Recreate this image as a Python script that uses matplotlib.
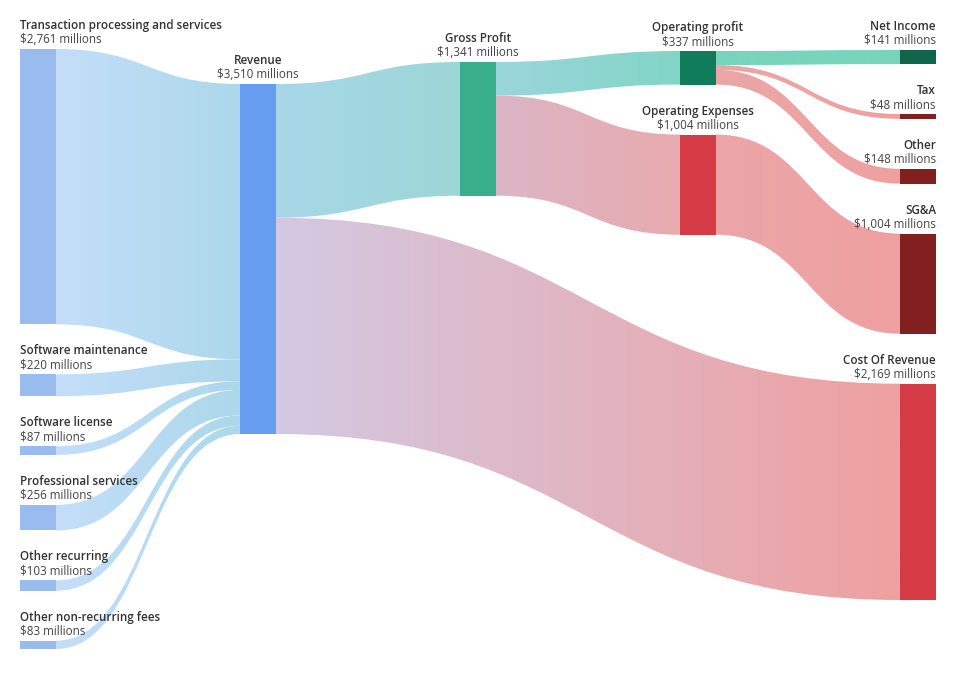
import numpy as np
import matplotlib.pyplot as plt
from matplotlib.path import Path
from matplotlib.patches import PathPatch, Rectangle
from matplotlib.colors import to_rgba

# nodes, grouped by column (top to bottom)
col0 = ["Transaction processing and services", "Software maintenance", "Software license",
        "Professional services", "Other recurring", "Other non-recurring fees"]
col1 = ["Revenue"]
col2 = ["Gross Profit"]
col3 = ["Operating profit", "Operating Expenses"]
col4 = ["Net Income", "Tax", "Other", "SG&A", "Cost Of Revenue"]

# flows (millions)
link_source = col0 + ["Revenue", "Revenue", "Gross Profit", "Gross Profit",
                      "Operating profit", "Operating profit", "Operating profit", "Operating Expenses"]
link_target = ["Revenue"] * 6 + ["Gross Profit", "Cost Of Revenue", "Operating profit", "Operating Expenses",
                                 "Net Income", "Tax", "Other", "SG&A"]
link_value = [2761, 220, 87, 256, 103, 83, 1341, 2169, 337, 1004, 141, 48, 148, 1004]

# ---- styling / layout ----
node_color = {n: "#9abbee" for n in col0}
node_color.update({"Revenue": "#679df0", "Gross Profit": "#38ae8a", "Operating profit": "#117c5a",
                   "Operating Expenses": "#d63c45", "Cost Of Revenue": "#d63c45", "Net Income": "#116449",
                   "Tax": "#81201f", "Other": "#81201f", "SG&A": "#81201f"})
link_colors = [("#c4defa", "#acd8ea")] * 6 + [
    ("#a8d8e8", "#9cd6d6"), ("#d3c9e2", "#efa0a0"),
    ("#9bd6dc", "#82d5c6"), ("#dbb6c6", "#e8aaae"),
    ("#78d4bc", "#78d4bc"), ("#eba6a8", "#efa0a0"),
    ("#eba6a8", "#efa0a0"), ("#eba6a8", "#efa0a0")]

columns = [col0, col1, col2, col3, col4]
col_x = [20, 240, 460, 680, 900]
col_top = [49, 84, 62, 51, 50]
node_w = 36
gap = 50
ky = 350 / 3510

inflow, outflow = {}, {}
for s, t, v in zip(link_source, link_target, link_value):
    outflow[s] = outflow.get(s, 0) + v
    inflow[t] = inflow.get(t, 0) + v
value = {}
pos = {}
for ci, col in enumerate(columns):
    y = col_top[ci]
    for n in col:
        value[n] = max(inflow.get(n, 0), outflow.get(n, 0))
        h = value[n] * ky
        pos[n] = (col_x[ci], y, h, ci)
        y += h + gap

fig = plt.figure(figsize=(9.56, 6.76), dpi=100)
ax = fig.add_axes([0, 0, 1, 1])

# where each link leaves / enters its nodes
out_off = {n: 0.0 for n in value}
in_off = {n: 0.0 for n in value}
src_y, tgt_y = {}, {}
for i in sorted(range(len(link_value)), key=lambda i: pos[link_target[i]][1]):
    s = link_source[i]
    src_y[i] = pos[s][1] + out_off[s]
    out_off[s] += link_value[i] * ky
for i in sorted(range(len(link_value)), key=lambda i: pos[link_source[i]][1]):
    t = link_target[i]
    tgt_y[i] = pos[t][1] + in_off[t]
    in_off[t] += link_value[i] * ky

for i in range(len(link_value)):
    s, t = link_source[i], link_target[i]
    x0 = pos[s][0] + node_w
    x1 = pos[t][0]
    h = link_value[i] * ky
    y0, y1 = src_y[i], tgt_y[i]
    xm = (x0 + x1) / 2
    verts = [(x0, y0), (xm, y0), (xm, y1), (x1, y1),
             (x1, y1 + h), (xm, y1 + h), (xm, y0 + h), (x0, y0 + h), (x0, y0)]
    codes = [Path.MOVETO, Path.CURVE4, Path.CURVE4, Path.CURVE4,
             Path.LINETO, Path.CURVE4, Path.CURVE4, Path.CURVE4, Path.CLOSEPOLY]
    patch = PathPatch(Path(verts, codes), facecolor="none", edgecolor="none")
    ax.add_patch(patch)
    c0, c1 = np.array(to_rgba(link_colors[i][0])), np.array(to_rgba(link_colors[i][1]))
    tt = np.linspace(0, 1, 256)[:, None]
    grad = (c0 * (1 - tt) + c1 * tt)[None, :, :]
    im = ax.imshow(grad, extent=(x0, x1, max(y0, y1) + h + 2, min(y0, y1) - 2),
                   aspect="auto", interpolation="bilinear", zorder=1)
    im.set_clip_path(patch)

for n, (x, y, h, ci) in pos.items():
    ax.add_patch(Rectangle((x, y), node_w, h, facecolor=node_color[n], edgecolor="none", zorder=2))
    if ci == 0:
        tx, ha = x, "left"
    elif ci == 4:
        tx, ha = x + node_w, "right"
    else:
        tx, ha = x + node_w / 2, "center"
    ax.text(tx, y - 20, n, ha=ha, va="baseline", fontsize=8.4, fontweight="semibold",
            color="#333333", family=["Open Sans", "DejaVu Sans"], zorder=3)
    ax.text(tx, y - 6, f"${value[n]:,} millions", ha=ha, va="baseline", fontsize=8.4,
            color="#444444", family=["Open Sans", "DejaVu Sans"], zorder=3)

ax.set_xlim(0, 956)
ax.set_ylim(676, 0)
ax.axis("off")
fig.savefig("out.png", dpi=100, facecolor="white")
